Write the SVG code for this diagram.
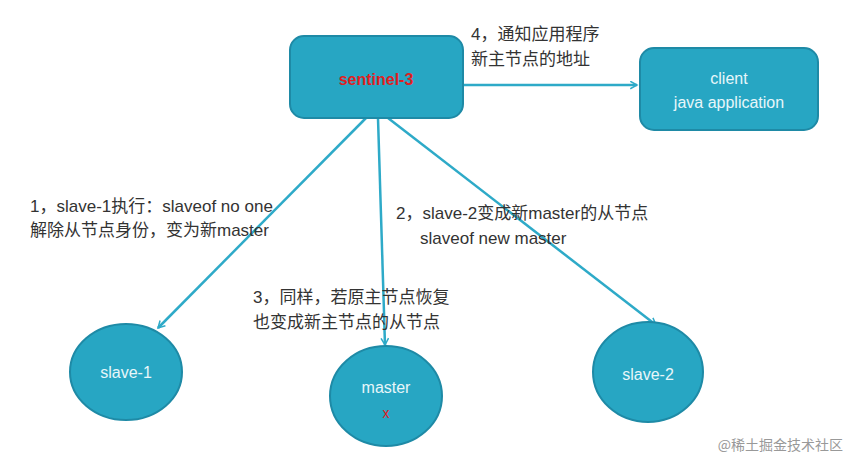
<svg xmlns="http://www.w3.org/2000/svg" width="853" height="470" viewBox="0 0 853 470">
<style>
.n{fill:#27a6c3;stroke:#1e8aa6;stroke-width:2}
.t{font-family:"Liberation Sans","Noto Sans CJK SC",sans-serif;font-size:16px;fill:#e8f6fa;text-anchor:middle}
.l{font-family:"Liberation Sans","Noto Sans CJK SC",sans-serif;font-size:17px;fill:#333}
.c{stroke:#2eaac8;stroke-width:2.5;fill:none;marker-end:url(#a)}
</style>
<defs><marker id="a" viewBox="0 0 12 12" refX="10" refY="6" markerWidth="9" markerHeight="9" orient="auto" markerUnits="userSpaceOnUse"><path d="M1,1 L10,6 L1,11" fill="none" stroke="#2eaac8" stroke-width="2"/></marker></defs>
<rect width="853" height="470" fill="#fff"/>
<g id="connectors">
<line class="c" x1="463" y1="85" x2="637" y2="85"/>
<line class="c" x1="366" y1="118" x2="158" y2="328"/>
<line class="c" x1="378" y1="118" x2="385" y2="345"/>
<line class="c" x1="388" y1="118" x2="656" y2="325"/>
</g>
<g id="sentinel-3"><rect class="n" x="290" y="36" width="173" height="82" rx="14"/><text class="t" x="376" y="85" style="fill:#e0201f;font-weight:bold">sentinel-3</text></g>
<g id="client"><rect class="n" x="640" y="48" width="178" height="82" rx="14"/><text class="t" x="729" y="84">client</text><text class="t" x="729" y="108">java application</text></g>
<g id="slave-1"><ellipse class="n" cx="126" cy="372" rx="56" ry="48"/><text class="t" x="126" y="378">slave-1</text></g>
<g id="master"><ellipse class="n" cx="386" cy="396" rx="56" ry="50"/><text class="t" x="386" y="393">master</text><text class="t" x="386" y="418" style="fill:#e0201f;font-size:14px">x</text></g>
<g id="slave-2"><ellipse class="n" cx="648" cy="372" rx="55" ry="50"/><text class="t" x="648" y="380">slave-2</text></g>
<g id="labels">
<text class="l" x="471" y="40">4，通知应用程序</text>
<text class="l" x="471" y="65">新主节点的地址</text>
<text class="l" x="30" y="212">1，slave-1执行：slaveof no one</text>
<text class="l" x="30" y="236">解除从节点身份，变为新master</text>
<text class="l" x="396" y="219">2，slave-2变成新master的从节点</text>
<text class="l" x="420" y="244">slaveof new master</text>
<text class="l" x="253" y="303">3，同样，若原主节点恢复</text>
<text class="l" x="253" y="328">也变成新主节点的从节点</text>
<text x="843" y="450" style="font-family:'Noto Sans CJK SC',sans-serif;font-size:14px;fill:#999;text-anchor:end">@稀土掘金技术社区</text>
</g>
</svg>
